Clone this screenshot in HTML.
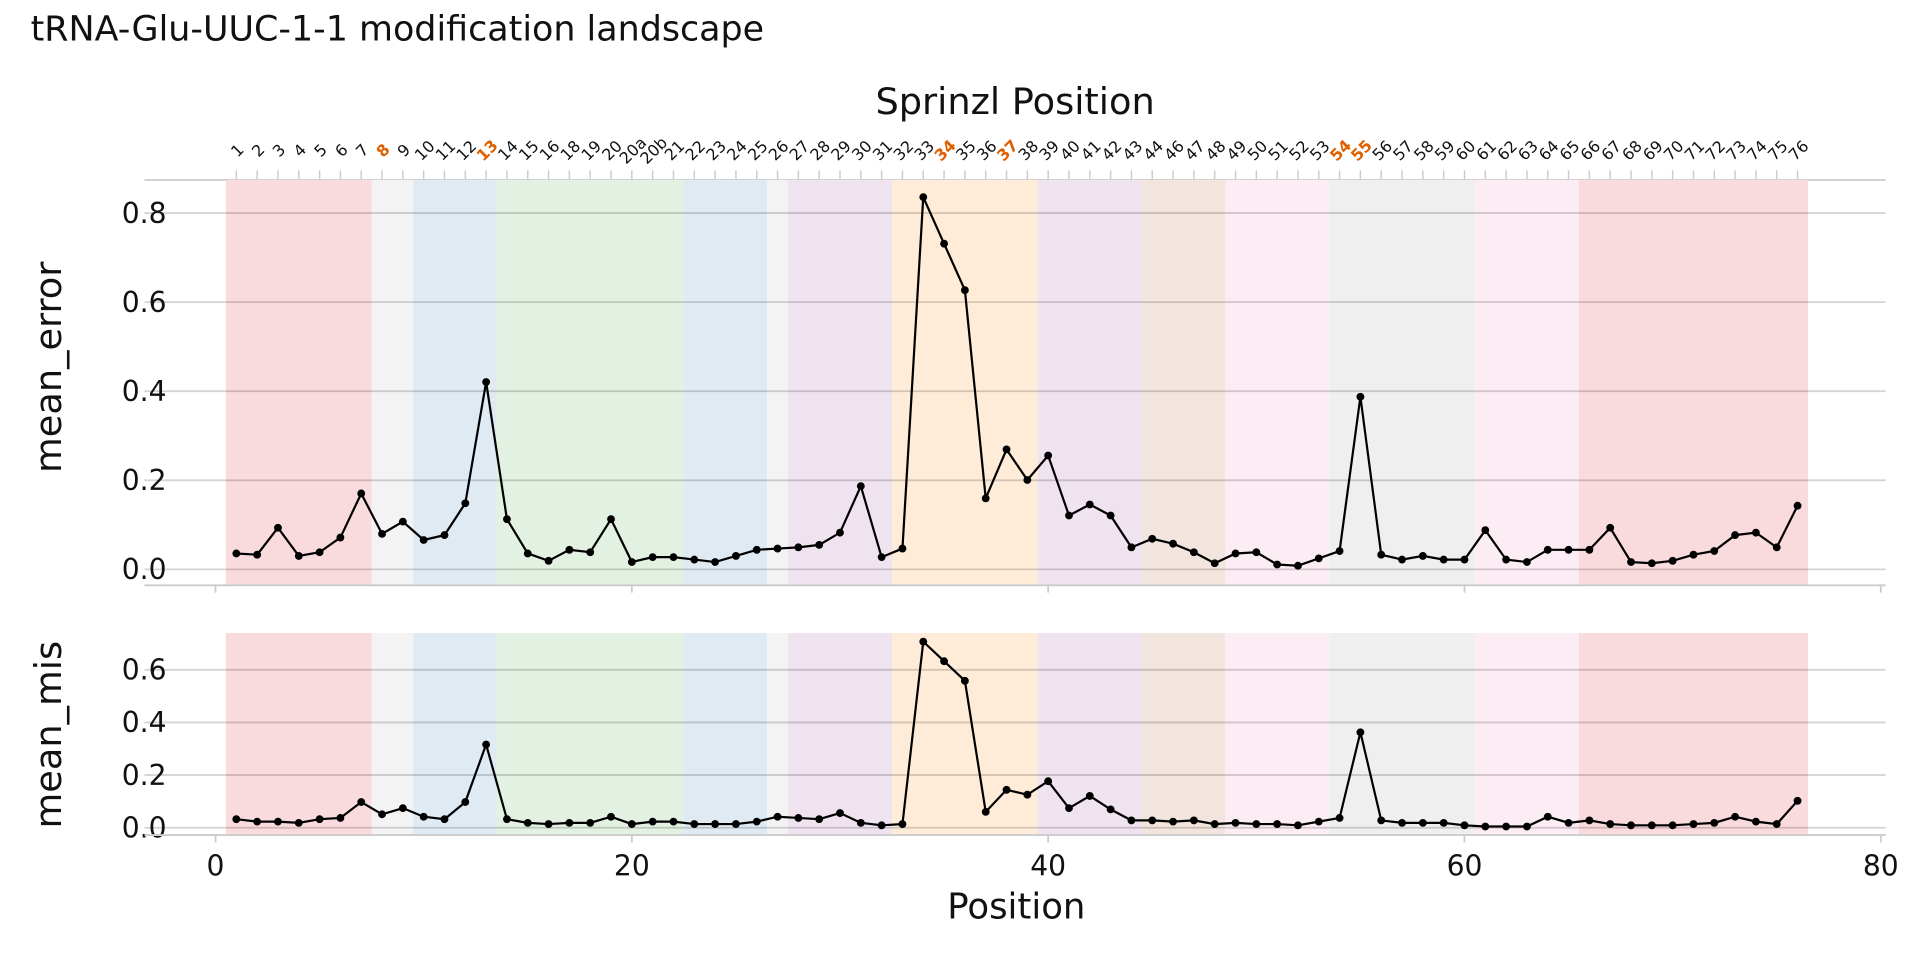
<!DOCTYPE html>
<html><head><meta charset="utf-8"><style>
html,body{margin:0;padding:0;background:#fff;}
svg{display:block;font-family:"DejaVu Sans","Liberation Sans",sans-serif;}
</style></head><body>
<svg id="s" width="1920" height="960" viewBox="0 0 1568 784" xmlns="http://www.w3.org/2000/svg"></svg>
<script>
(function(){
var s=document.getElementById('s');
var h='';
function X(p){return 176+17*p;}
h+='<text x="25" y="33" font-size="28.5" fill="#111">tRNA-Glu-UUC-1-1 modification landscape</text>';
h+='<text x="829" y="93" font-size="30" text-anchor="middle" fill="#111">Sprinzl Position</text>';
var bands=[[0.5,7.5,'#f9dadd'],[7.5,9.5,'#f3f3f3'],[9.5,13.5,'#e0eaf3'],[13.5,22.5,'#e3f1e2'],[22.5,26.5,'#e0eaf3'],[26.5,27.5,'#f3f3f3'],[27.5,32.5,'#efe3f0'],[32.5,39.5,'#feecd8'],[39.5,44.5,'#efe3f0'],[44.5,48.5,'#f2e5dd'],[48.5,53.5,'#fcecf3'],[53.5,60.5,'#efefef'],[60.5,65.5,'#fcecf3'],[65.5,76.5,'#f9dadd']];
function panel(y0,y1,yz,sc,ticks,vals,lab,ly){
  bands.forEach(function(b){h+='<rect x="'+X(b[0])+'" y="'+y0+'" width="'+(17*(b[1]-b[0]))+'" height="'+(y1-y0)+'" fill="'+b[2]+'"/>';});
  ticks.forEach(function(t){var y=yz-sc*t;h+='<line x1="118" x2="1540" y1="'+y+'" y2="'+y+'" stroke="#000" stroke-opacity="0.17" stroke-width="1.5"/>';
    h+='<text x="136" y="'+(y+8)+'" font-size="23" text-anchor="end" fill="#111">'+t.toFixed(1)+'</text>';});
  h+='<line x1="118" x2="1540" y1="'+y1+'" y2="'+y1+'" stroke="#ccc" stroke-width="1.5"/>';
  for(var i=0;i<=4;i++)h+='<line x1="'+X(20*i)+'" x2="'+X(20*i)+'" y1="'+y1+'" y2="'+(y1+6)+'" stroke="#ccc" stroke-width="1.5"/>';
  var pts=vals.map(function(v,i){return X(i+1)+','+v;}).join(' ');
  h+='<polyline points="'+pts+'" fill="none" stroke="#000" stroke-width="1.8"/>';
  vals.forEach(function(v,i){h+='<circle cx="'+X(i+1)+'" cy="'+v+'" r="3.2" fill="#000"/>';});
  h+='<text transform="translate(50,'+ly+') rotate(-90)" font-size="30" text-anchor="middle" fill="#111">'+lab+'</text>';
}
var topv=[452,453,431,454,451,439,403,436,426,441,437,411,312,424,452,458,449,451,424,459,455,455,457,459,454,449,448,447,445,435,397,455,448,161,199,237,407,367,392,372,421,412,421,447,440,444,451,460,452,451,461,462,456,450,324,453,457,454,457,457,433,457,459,449,449,449,431,459,460,458,453,450,437,435,447,413];
var botv=[669,671,671,672,669,668,655,665,660,667,669,655,608,669,672,673,672,672,667,673,671,671,673,673,673,671,667,668,669,664,672,674,673,524,540,556,663,645,649,638,660,650,661,670,670,671,670,673,672,673,673,674,671,668,598,670,672,672,672,674,675,675,675,667,672,670,673,674,674,674,673,672,667,671,673,654];
h+='<line x1="118" x2="1540" y1="147" y2="147" stroke="#ccc" stroke-width="1.5"/>';
panel(147,478,465,363.75,[0,0.2,0.4,0.6,0.8],topv,'mean_error',300);
panel(517,682,676,215,[0,0.2,0.4,0.6],botv,'mean_mis',600);
for(var i=0;i<=4;i++)h+='<text x="'+X(20*i)+'" y="715" font-size="23" text-anchor="middle" fill="#111">'+(20*i)+'</text>';
h+='<text x="830" y="750" font-size="29" text-anchor="middle" fill="#111">Position</text>';
var labs=[];for(var i=1;i<=16;i++)labs.push(''+i);labs.push('18','19','20','20a','20b');for(var i=21;i<=44;i++)labs.push(''+i);for(var i=46;i<=76;i++)labs.push(''+i);
var hi={8:1,13:1,35:1,38:1,54:1,55:1};
labs.forEach(function(l,i){var p=i+1,x=X(p);
  h+='<line x1="'+x+'" x2="'+x+'" y1="139" y2="147" stroke="#ccc" stroke-width="1.2"/>';
  var c=hi[p]?'#e06000':'#111',w=hi[p]?'bold':'normal';
  h+='<text transform="translate('+(x+4)+',126) rotate(-45)" font-size="13" text-anchor="middle" fill="'+c+'" font-weight="'+w+'">'+l+'</text>';});
s.innerHTML=h;
})();
</script>
</body></html>
